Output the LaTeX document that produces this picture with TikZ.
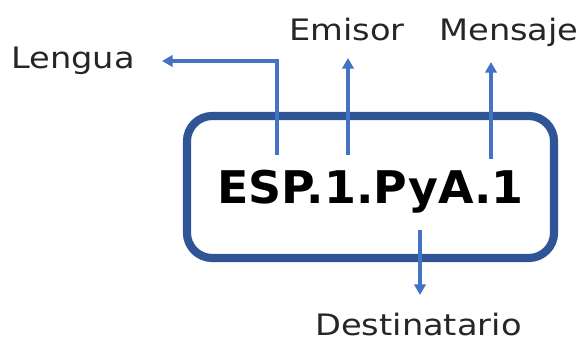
\documentclass[tikz,border=0pt]{standalone}
\usepackage{fontspec}
\setmainfont{DejaVu Sans}
\newfontfamily\labelfont[FakeStretch=1.14]{DejaVu Sans}
\newfontfamily\codefont[FakeStretch=1.02]{DejaVu Sans}
\usetikzlibrary{arrows.meta, positioning}
\definecolor{boxblue}{HTML}{2F5597}
\definecolor{arrowblue}{HTML}{4472C4}

\tikzset{
  label text/.style={font=\labelfont\fontsize{21}{25}\selectfont, text=black!85, inner sep=0pt, anchor=base west},
  code box/.style={draw=boxblue, line width=5.8pt, rounded corners=18pt, minimum width=9.175cm, minimum height=3.55cm, text depth=0pt, font=\codefont\fontsize{32}{38}\selectfont\bfseries},
  pointer/.style={draw=arrowblue, line width=2.2pt, -{Triangle[length=7.5pt, width=8pt]}}
}

\begin{document}
\begin{tikzpicture}[x=0.025cm, y=-0.025cm]
  \useasboundingbox (0,0) rectangle (584,339);

  % Code box
  \node[code box] (code) at (370.5,187) {ESP.1.PyA.1};

  % Labels
  \node[label text] (lengua) at (11,69) {Lengua};
  \node[label text] (emisor) at (289,41) {Emisor};
  \node[label text] (mensaje) at (439,41) {Mensaje};
  \node[label text] (destinatario) at (315,335) {Destinatario};

  % Arrow ends
  \coordinate (lengua from) at (277,155);
  \coordinate (lengua to) at (162,61);
  \coordinate (emisor from) at (348,155);
  \coordinate (emisor to) at (348,58);
  \coordinate (mensaje from) at (491,159);
  \coordinate (mensaje to) at (491,62);
  \coordinate (dest from) at (420,230);
  \coordinate (dest to) at (420,295);

  % Arrows
  \draw[pointer] (lengua from) |- (lengua to);
  \draw[pointer] (emisor from) -- (emisor to);
  \draw[pointer] (mensaje from) -- (mensaje to);
  \draw[pointer] (dest from) -- (dest to);
\end{tikzpicture}
\end{document}
